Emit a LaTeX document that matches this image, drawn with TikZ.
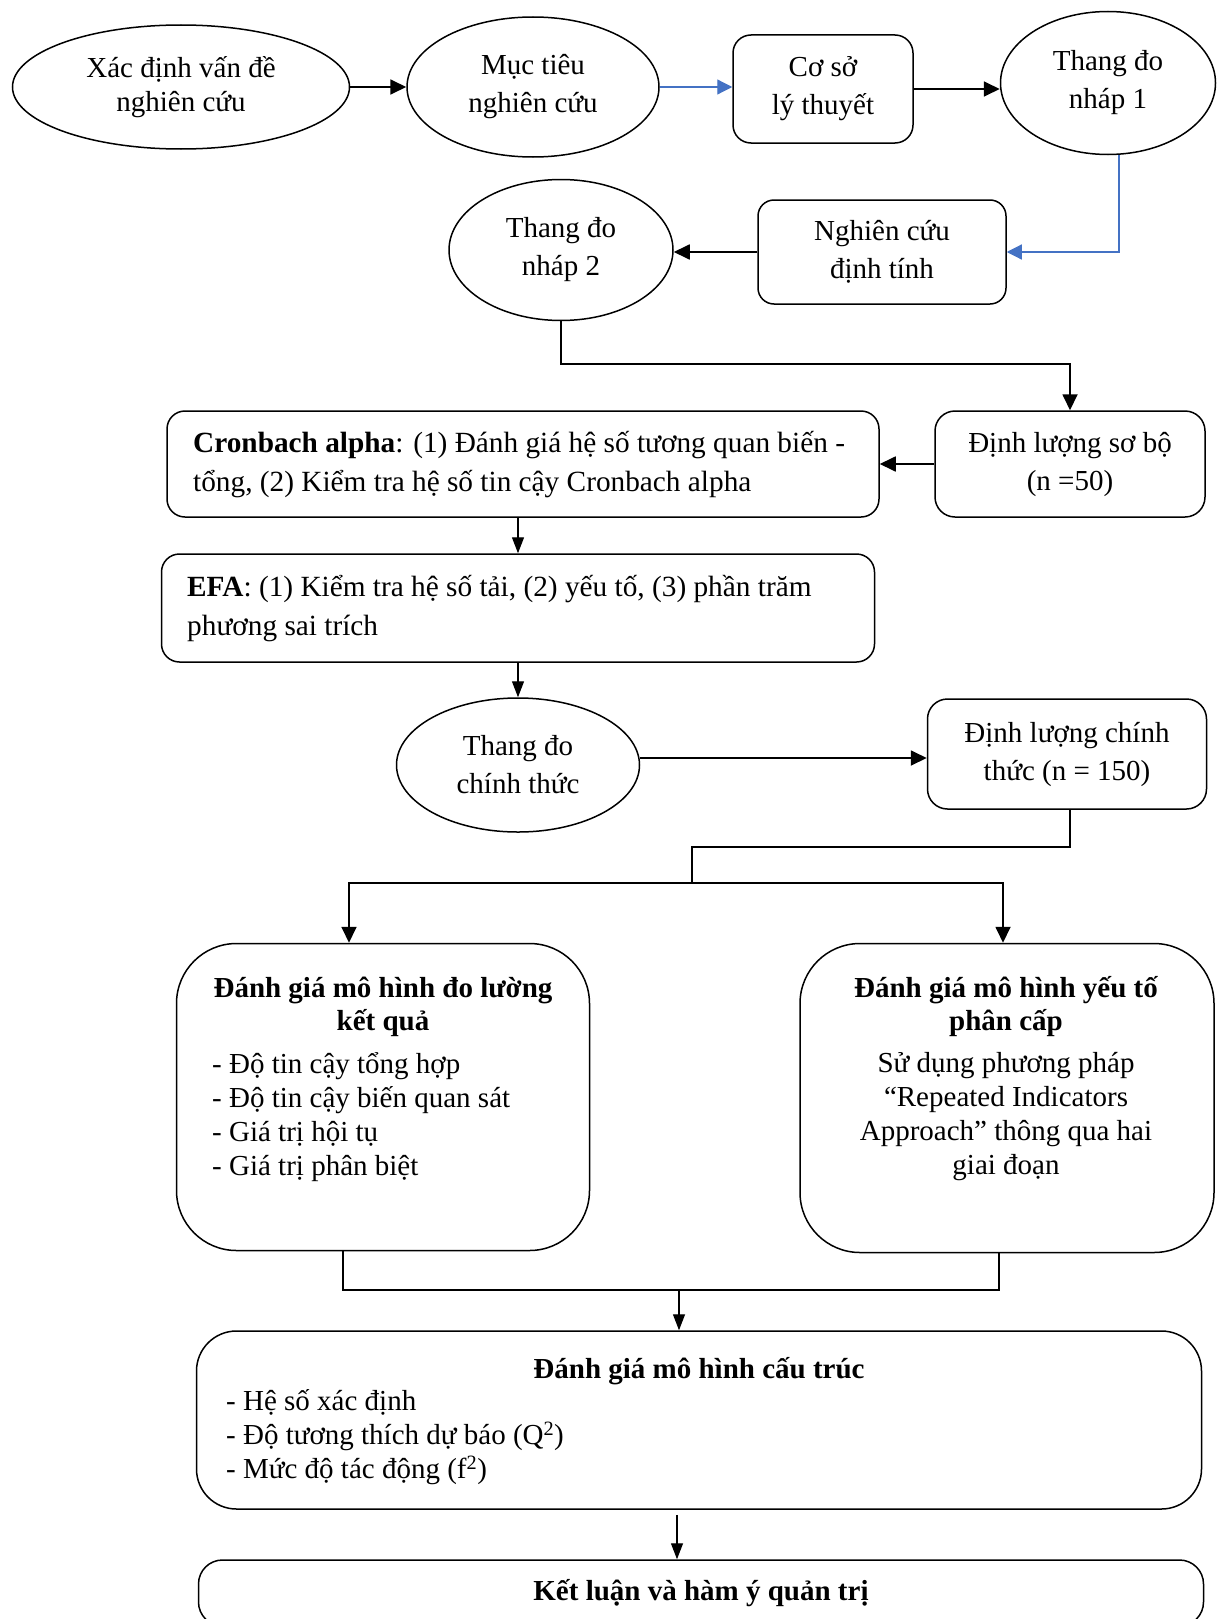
\documentclass[tikz,border=0pt]{standalone}
\usepackage{fontspec}
\setmainfont{Liberation Serif}
\usetikzlibrary{shapes.geometric,arrows.meta,positioning,calc}
\definecolor{Ink}{HTML}{000000}
\definecolor{Flow}{HTML}{4472C4}

\begin{document}
\begin{tikzpicture}[x=1pt, y=-1pt,
  every node/.style={font=\fontsize{29}{38}\selectfont, text=Ink, inner sep=0pt},
  oval/.style={ellipse, draw=Ink, line width=1.5pt, align=center},
  card/.style={rectangle, rounded corners=15pt, draw=Ink, line width=1.5pt, align=center},
  link/.style={draw=Ink, line width=1.8pt},
  arr/.style={link, -{Triangle[length=16pt, width=15pt]}},
  thinarr/.style={draw=Ink, line width=1.3pt, -{Triangle[length=16pt, width=12pt]}},
  bluearr/.style={draw=Flow, line width=1.2pt, -{Triangle[length=15pt, width=15pt]}}]

  \useasboundingbox (0,0) rectangle (1218,1619);
  \fill[white] (0,0) rectangle (1218,1619);

  % top row
  \node[oval, minimum width=337pt, minimum height=124pt, font=\fontsize{29}{34}\selectfont] (problem) at (181,87) {Xác định vấn đề\\nghiên cứu};
  \node[oval, minimum width=252pt, minimum height=140pt] (goal) at (533,87) {Mục tiêu\\nghiên cứu};
  \node[card, rounded corners=18pt, minimum width=180pt, minimum height=108pt] (theory) at (823,89) {Cơ sở\\lý thuyết};
  \node[oval, minimum width=215pt, minimum height=143pt] (draft1) at (1108,83) {Thang đo\\nháp 1};

  % second row
  \node[card, rounded corners=16pt, minimum width=248pt, minimum height=104pt] (quali) at (882,252) {Nghiên cứu\\định tính};
  \node[oval, minimum width=224pt, minimum height=141pt] (draft2) at (561,250) {Thang đo\\nháp 2};

  % pilot and analysis
  \node[card, rounded corners=20pt, minimum width=270pt, minimum height=106pt] (pilot) at (1070,464) {Định lượng sơ bộ\\(n =50)};
  \node[card, rounded corners=18pt, minimum width=712pt, minimum height=106pt] (alpha) at (523,464) {};
  \node[font=\fontsize{29.3}{39}\selectfont, align=left, anchor=west] (alpha-text) at (193,465) {\textbf{Cronbach alpha}: (1) Đánh giá hệ số tương quan biến -\\tổng, (2) Kiểm tra hệ số tin cậy Cronbach alpha};
  \node[card, rounded corners=18pt, minimum width=713pt, minimum height=108pt] (efa) at (518,608) {};
  \node[font=\fontsize{29.3}{39}\selectfont, align=left, anchor=west] (efa-text) at (187,609) {\textbf{EFA}: (1) Kiểm tra hệ số tải, (2) yếu tố, (3) phần trăm\\phương sai trích};

  % main study
  \node[oval, minimum width=243pt, minimum height=134pt] (final) at (518,765) {Thang đo\\chính thức};
  \node[card, rounded corners=20pt, minimum width=279pt, minimum height=110pt] (main) at (1067,754) {Định lượng chính\\thức (n = 150)};

  % evaluation boxes
  \node[card, rounded corners=60pt, minimum width=413pt, minimum height=307pt] (measure) at (383,1097) {};
  \node[font=\fontsize{29}{33}\selectfont\bfseries, align=center] (measure-title) at (383,1007) {Đánh giá mô hình đo lường\\kết quả};
  \node[font=\fontsize{29}{34}\selectfont, align=left, anchor=west] (measure-list) at (212,1117) {- Độ tin cậy tổng hợp\\- Độ tin cậy biến quan sát\\- Giá trị hội tụ\\- Giá trị phân biệt};

  \node[card, rounded corners=60pt, minimum width=414pt, minimum height=309pt] (hier) at (1007,1098) {};
  \node[font=\fontsize{29}{33}\selectfont\bfseries, align=center] (hier-title) at (1006,1007) {Đánh giá mô hình yếu tố\\phân cấp};
  \node[font=\fontsize{29}{34}\selectfont, align=center] (hier-body) at (1006,1117) {Sử dụng phương pháp\\“Repeated Indicators\\Approach” thông qua hai\\giai đoạn};

  \node[card, rounded corners=40pt, minimum width=1005pt, minimum height=178pt] (struct) at (699,1420) {};
  \node[font=\fontsize{29}{34}\selectfont\bfseries] (struct-title) at (699,1371) {Đánh giá mô hình cấu trúc};
  \node[font=\fontsize{29}{34}\selectfont, align=left, anchor=west] (struct-list) at (226,1437) {- Hệ số xác định\\- Độ tương thích dự báo (Q\textsuperscript{2})\\- Mức độ tác động (f\textsuperscript{2})};

  \node[card, rounded corners=24pt, minimum width=1005pt, minimum height=66pt, font=\fontsize{29}{34}\selectfont\bfseries] (conclude) at (701,1593) {Kết luận và hàm ý quản trị};

  % connectors
  \draw[arr] (problem.east) -- (goal.west |- problem.east);
  \draw[bluearr] (goal.east) -- (theory.west |- goal.east);
  \draw[arr] (theory.east) -- (draft1.west |- theory.east);
  \draw[bluearr] ([xshift=11pt]draft1.south) |- (quali.east);
  \draw[arr] (quali.west) -- (draft2.east |- quali.west);
  \draw[arr] (draft2.south) -- ++(0,43) -| (pilot.north);
  \draw[arr] (pilot.west) -- (alpha.east);
  \draw[thinarr] (efa.north |- alpha.south) -- (efa.north);
  \draw[thinarr] (efa.south) -- (final.north);
  \draw[arr] ([yshift=7pt]final.east) -- ([yshift=7pt]final.east -| main.west);

  \coordinate (split) at (692,883);
  \draw[link] ([xshift=3pt]main.south) -- ++(0,37) -| (split);
  \draw[arr] (split) -| ([xshift=-34pt]measure.north);
  \draw[arr] (split) -| ([xshift=-4pt]hier.north);

  \coordinate (join) at (679,1290);
  \draw[link] ([xshift=-40pt]measure.south) |- (join);
  \draw[link] ([xshift=-8pt]hier.south) |- (join);
  \draw[thinarr] (join) -- (join |- struct.north);
  \draw[thinarr] ([xshift=-22pt,yshift=-5pt]struct.south) -- ([xshift=-22pt]struct.south |- conclude.north);
\end{tikzpicture}
\end{document}
